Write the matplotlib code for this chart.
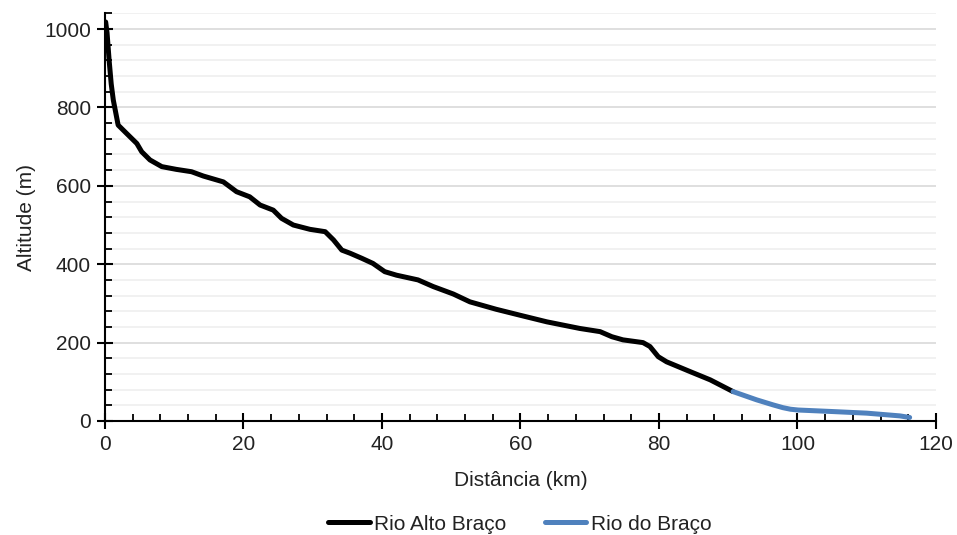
import matplotlib
matplotlib.use("Agg")
import matplotlib.pyplot as plt
from matplotlib.ticker import MultipleLocator

plt.rcParams["font.family"] = ["Liberation Sans", "DejaVu Sans"]

# Rio Alto Braço (km, m)
alto_km = [0.1, 0.3, 0.6, 0.9, 1.2, 1.9, 3.1, 4.6, 5.3, 6.5, 8.2, 10.3, 12.5, 14.2,
           17.1, 19.0, 20.9, 22.4, 24.3, 25.5, 27.2, 29.6, 31.8, 33.0, 34.2, 35.4,
           37.1, 38.7, 40.4, 42.1, 45.2, 47.4, 50.3, 52.7, 56.5, 59.9, 63.8, 68.6,
           71.5, 73.2, 74.8, 77.7, 78.7, 79.9, 81.1, 84.5, 87.4, 90.7]
alto_alt = [1018, 990, 920, 860, 819, 755, 734, 708, 687, 666, 649, 642, 636, 625,
            610, 585, 572, 551, 538, 517, 500, 489, 483, 462, 436, 428,
            415, 402, 381, 372, 360, 343, 324, 304, 285, 270, 253, 236,
            228, 215, 207, 200, 190, 164, 151, 126, 105, 75]

# Rio do Braço (km, m)
braco_km = [90.7, 94.1, 96.5, 97.9, 99.0, 100.1, 105.2, 110.0, 114.8, 116.2]
braco_alt = [75, 54, 41, 34, 30, 28, 24, 20, 13, 9]

text_color = "#222222"

fig = plt.figure(figsize=(9.57, 5.35), dpi=100)
ax = fig.add_axes([0.1097, 0.2131, 0.8683, 0.7619])

ax.plot(alto_km, alto_alt, color="black", lw=3.6, label="Rio Alto Braço",
        solid_capstyle="round", solid_joinstyle="round", zorder=3)
ax.plot(braco_km, braco_alt, color="#4f81bd", lw=3.6, label="Rio do Braço",
        solid_capstyle="round", solid_joinstyle="round", zorder=3)

ax.set_xlim(0, 120)
ax.set_ylim(0, 1040)
ax.xaxis.set_major_locator(MultipleLocator(20))
ax.xaxis.set_minor_locator(MultipleLocator(4))
ax.yaxis.set_major_locator(MultipleLocator(200))
ax.yaxis.set_minor_locator(MultipleLocator(40))

ax.grid(axis="y", which="major", color="#d9d9d9", lw=1.2)
ax.grid(axis="y", which="minor", color="#efefef", lw=1.2)
ax.set_axisbelow(True)

for side in ("top", "right"):
    ax.spines[side].set_visible(False)
for side in ("left", "bottom"):
    ax.spines[side].set_linewidth(1.5)

ax.tick_params(which="major", direction="inout", length=12, width=1.5,
               labelsize=15, pad=4, labelcolor=text_color)
ax.tick_params(which="minor", direction="in", length=5, width=1.3)

ax.set_xlabel("Distância (km)", fontsize=15, labelpad=12, color=text_color)
ax.set_ylabel("Altitude (m)", fontsize=15, labelpad=6, color=text_color)

leg = ax.legend(loc="center", bbox_to_anchor=(0.499, -0.253), ncol=2, frameon=False,
                fontsize=15, handlelength=2.0, handletextpad=0.2, columnspacing=1.85)
for t in leg.get_texts():
    t.set_color(text_color)

fig.savefig("out.png", dpi=100)
